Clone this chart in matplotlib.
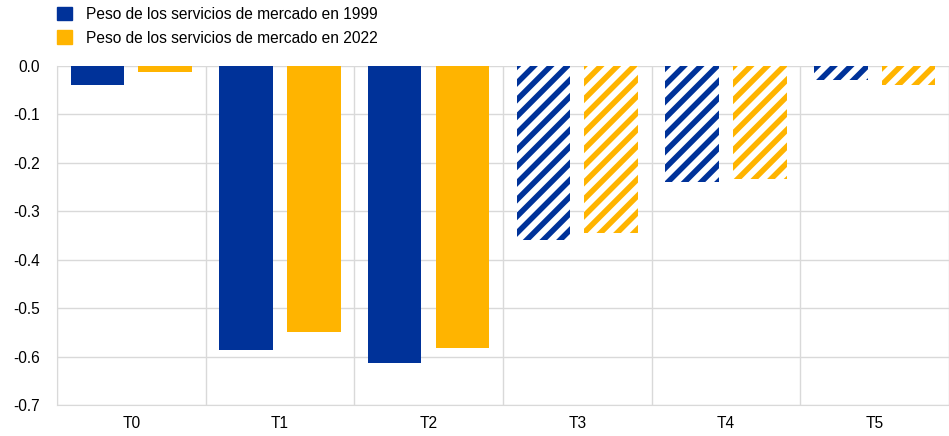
import numpy as np
import matplotlib.pyplot as plt
from matplotlib.patches import Patch

plt.rcParams['font.family'] = ['Liberation Sans', 'DejaVu Sans']
plt.rcParams['hatch.linewidth'] = 4.0

categories = ['T0', 'T1', 'T2', 'T3', 'T4', 'T5']
peso_1999 = [-0.039, -0.587, -0.614, -0.360, -0.240, -0.029]
peso_2022 = [-0.012, -0.550, -0.583, -0.345, -0.233, -0.039]
hatched = [False, False, False, True, True, True]
labels = ['Peso de los servicios de mercado en 1999',
          'Peso de los servicios de mercado en 2022']
yticks = [-0.7, -0.6, -0.5, -0.4, -0.3, -0.2, -0.1, 0.0]
ytick_labels = ['-0.7', '-0.6', '-0.5', '-0.4', '-0.3', '-0.2', '-0.1', '0.0']

blue = '#003299'
yellow = '#ffb400'

fig = plt.figure(figsize=(9.49, 4.36), dpi=100)
ax = fig.add_axes([0.060, 0.071, 0.940, 0.778])

x = np.arange(len(categories))
w = 0.36
off = 0.228
for i in range(len(categories)):
    for vals, col, sgn in [(peso_1999, blue, -1), (peso_2022, yellow, 1)]:
        if hatched[i]:
            ax.bar(x[i] + sgn * off, vals[i], w, facecolor='white', edgecolor=col,
                   linewidth=0, hatch='//', zorder=3)
        else:
            ax.bar(x[i] + sgn * off, vals[i], w, color=col, linewidth=0, zorder=3)

ax.set_xlim(-0.5, len(categories) - 0.5)
ax.set_ylim(-0.7, 0.0)
ax.set_yticks(yticks)
ax.set_yticklabels(ytick_labels)
ax.set_xticks(x)
ax.set_xticklabels(categories)
ax.set_xticks(np.arange(-0.5, len(categories), 1), minor=True)
ax.grid(axis='y', color='#d9d9d9', linewidth=1, zorder=0)
ax.grid(axis='x', which='minor', color='#d9d9d9', linewidth=1, zorder=0)
ax.tick_params(axis='both', which='both', length=0, labelsize=11.2, colors='#000000')
ax.tick_params(axis='x', pad=8)
ax.tick_params(axis='y', pad=12)
for s in ['top', 'right']:
    ax.spines[s].set_visible(False)
for s in ['left', 'bottom']:
    ax.spines[s].set_color('#d9d9d9')

handles = [Patch(color=blue), Patch(color=yellow)]
fig.legend(handles, labels, loc='upper left', bbox_to_anchor=(0.060, 0.985),
           frameon=False, fontsize=11.2, handlelength=1.0, handleheight=1.0,
           handletextpad=0.85, labelspacing=0.55, borderaxespad=0, borderpad=0)

fig.savefig('out.png', dpi=100)
